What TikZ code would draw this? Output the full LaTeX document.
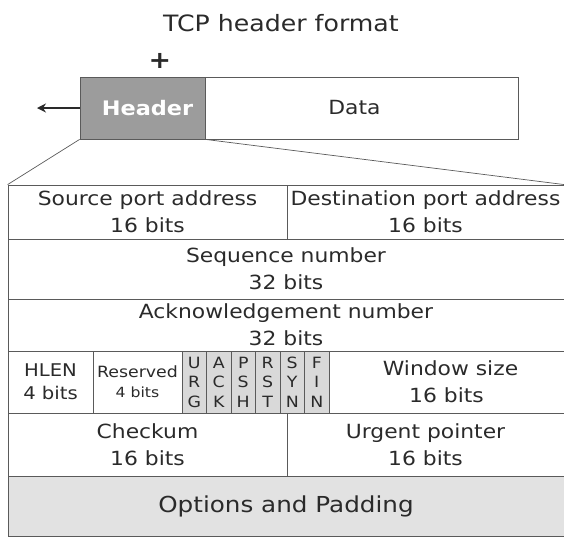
\documentclass[tikz,border=0pt]{standalone}
\usepackage{fontspec}
\setmainfont[FakeStretch=1.12]{DejaVu Sans}
\usetikzlibrary{arrows.meta}
\definecolor{ink}{HTML}{2A2A2A}
\definecolor{rule}{HTML}{5A5A5A}
\definecolor{hdrgray}{HTML}{9C9C9C}
\definecolor{flaggray}{HTML}{D9D9D9}
\definecolor{optgray}{HTML}{E2E2E2}
\tikzset{
  cellbox/.style={draw=rule, line width=0.8pt, inner sep=0pt, align=center,
    text=ink, font=\fontsize{19.5}{27}\selectfont},
  flagbox/.style={cellbox, fill=flaggray, minimum width=24.5pt, minimum height=62pt,
    font=\fontsize{15.5}{19.5}\selectfont},
  framebox/.style={draw=rule, line width=0.8pt, inner sep=0pt, minimum height=62pt},
  guide/.style={draw=rule, line width=0.7pt},
}
\begin{document}
\begin{tikzpicture}[x=1pt, y=-1pt]
\useasboundingbox (0,0) rectangle (564,536);
% title
\node[text=ink, font=\fontsize{22.5}{24}\selectfont] (title) at (281,23) {TCP header format};
% segment: header + data
\node[framebox, fill=hdrgray, minimum width=125pt, text=white, text depth=0pt,
  font=\fontsize{20}{22}\selectfont\bfseries] (hdr) at (142.5,108) {\hspace*{10pt}Header};
\node[framebox, minimum width=313pt, text=ink,
  font=\fontsize{19.5}{22}\selectfont] (data) at (361.5,108) {\hspace*{-14pt}Data};
\node[text=ink, font=\fontsize{24}{24}\selectfont\bfseries] (plus) at (160,61) {+};
\coordinate (arrowend) at (37,108);
\draw[guide, line width=1.3pt, draw=ink, -{Stealth[length=9pt, width=9pt]}] (hdr.west) -- (arrowend);
% header fields
\node[cellbox, minimum width=279pt, minimum height=54pt] (src) at (147.5,212) {Source port address\\16 bits};
\node[cellbox, minimum width=277pt, minimum height=54pt] (dst) at (425.5,212) {Destination port address\\16 bits};
\node[cellbox, minimum width=556pt, minimum height=60pt] (seq) at (286,269) {Sequence number\\32 bits};
\node[cellbox, minimum width=556pt, minimum height=52pt] (ack) at (286,325) {Acknowledgement number\\32 bits};
\node[cellbox, minimum width=85pt, minimum height=62pt, font=\fontsize{17.5}{23}\selectfont] (hlen) at (50.5,382) {HLEN\\4 bits};
\node[cellbox, minimum width=89pt, minimum height=62pt, font=\fontsize{15.5}{20}\selectfont] (res) at (137.5,382) {Reserved\\{\fontsize{14}{14}\selectfont 4 bits}};
\node[flagbox] (urg) at (194.25,382) {U\\R\\G};
\node[flagbox] (ackf) at (218.75,382) {A\\C\\K};
\node[flagbox] (psh) at (243.25,382) {P\\S\\H};
\node[flagbox] (rst) at (267.75,382) {R\\S\\T};
\node[flagbox] (syn) at (292.25,382) {S\\Y\\N};
\node[flagbox] (fin) at (316.75,382) {F\\I\\N};
\node[cellbox, minimum width=235pt, minimum height=62pt] (win) at (446.5,382) {\hspace*{8pt}Window size\\16 bits};
\node[cellbox, minimum width=279pt, minimum height=63pt] (chk) at (147.5,444.5) {Checkum\\16 bits};
\node[cellbox, minimum width=277pt, minimum height=63pt] (urgp) at (425.5,444.5) {Urgent pointer\\16 bits};
\node[cellbox, fill=optgray, minimum width=556pt, minimum height=60pt,
  font=\fontsize{22}{24}\selectfont] (opt) at (286,506) {Options and Padding};
% expansion lines from the header to the field layout
\draw[guide] (hdr.south west) -- (src.north west);
\draw[guide] (hdr.south east) -- (dst.north east);
\end{tikzpicture}
\end{document}
